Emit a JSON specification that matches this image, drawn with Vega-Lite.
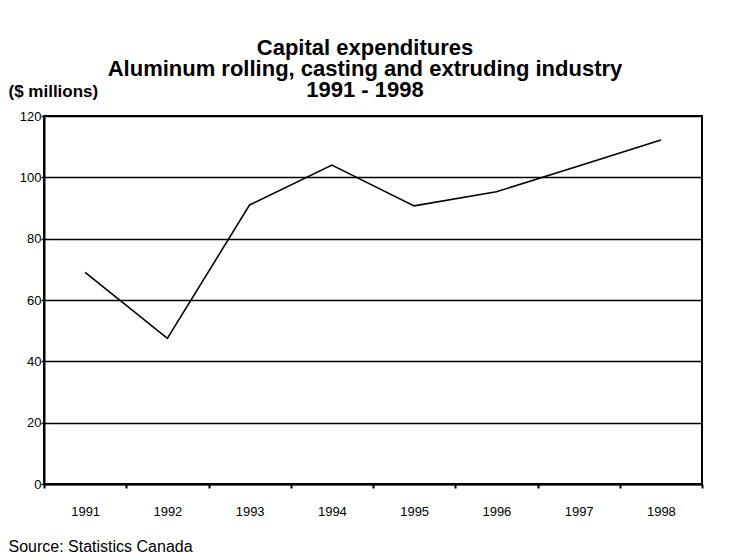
{
  "$schema": "https://vega.github.io/schema/vega-lite/v6.json",
  "width": 658,
  "height": 368,
  "autosize": "none",
  "padding": {"left": 44, "top": 116, "right": 28, "bottom": 76},
  "background": "white",
  "config": {
    "font": "Liberation Sans",
    "view": {"stroke": "black", "strokeWidth": 2}
  },
  "title": {
    "text": ["Capital expenditures", "Aluminum rolling, casting and extruding industry", "1991 - 1998"],
    "font": "Liberation Sans",
    "fontSize": 22,
    "fontWeight": "bold",
    "color": "black",
    "anchor": "middle",
    "dx": -8,
    "dy": 20,
    "lineHeight": 21,
    "offset": 0
  },
  "data": {
    "values": [
      {"year": "1991", "value": 69},
      {"year": "1992", "value": 47.5},
      {"year": "1993", "value": 91},
      {"year": "1994", "value": 104},
      {"year": "1995", "value": 90.7},
      {"year": "1996", "value": 95.3},
      {"year": "1997", "value": 103.7},
      {"year": "1998", "value": 112.2}
    ]
  },
  "mark": {"type": "line", "color": "black", "strokeWidth": 1.6},
  "encoding": {
    "x": {
      "field": "year",
      "type": "ordinal",
      "scale": {"paddingInner": 0, "paddingOuter": 0},
      "axis": {
        "title": "Source: Statistics Canada",
        "titleFont": "Liberation Sans",
        "titleFontSize": 16,
        "titleFontWeight": "normal",
        "titleColor": "black",
        "titleAnchor": "start",
        "titleAlign": "left",
        "titleBaseline": "alphabetic",
        "titleX": -36,
        "titleY": 67,
        "labelAngle": 0,
        "labelFontSize": 13,
        "labelColor": "black",
        "labelPadding": 17,
        "tickBand": "extent",
        "tickColor": "black",
        "tickSize": 4,
        "tickWidth": 2,
        "domainColor": "black",
        "domainWidth": 2
      }
    },
    "y": {
      "field": "value",
      "type": "quantitative",
      "scale": {"domain": [0, 120], "nice": false},
      "axis": {
        "title": "($ millions)",
        "titleFont": "Liberation Sans",
        "titleFontSize": 17,
        "titleFontWeight": "bold",
        "titleColor": "black",
        "titleAngle": 0,
        "titleAlign": "left",
        "titleBaseline": "alphabetic",
        "titleX": -36,
        "titleY": -20,
        "values": [0, 20, 40, 60, 80, 100, 120],
        "grid": true,
        "gridColor": "black",
        "gridWidth": 1.5,
        "gridOpacity": 1,
        "labelFontSize": 13,
        "labelColor": "black",
        "labelPadding": 0,
        "tickColor": "black",
        "tickSize": 3,
        "tickWidth": 1.5,
        "domainColor": "black",
        "domainWidth": 2
      }
    }
  }
}
